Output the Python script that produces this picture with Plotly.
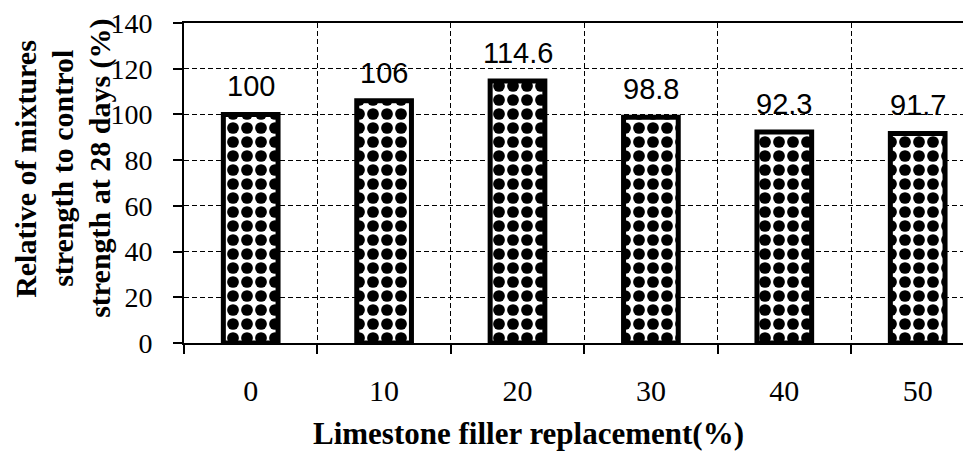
import plotly.graph_objects as go

categories = ["0", "10", "20", "30", "40", "50"]
values = [100, 106, 114.6, 98.8, 92.3, 91.7]
value_labels = ["100", "106", "114.6", "98.8", "92.3", "91.7"]
y_ticks = [0, 20, 40, 60, 80, 100, 120, 140]
y_title_lines = ["Relative of mixtures", "strength to control", "strength at 28 days (%)"]
x_title = "Limestone filler replacement(%)"

x_pos = list(range(len(categories)))

fig = go.Figure()
fig.add_trace(go.Bar(
    x=x_pos, y=values, width=0.41,
    marker=dict(
        color="white",
        line=dict(color="black", width=5),
        pattern=dict(shape=".", fgcolor="black", bgcolor="white", fgopacity=1,
                     size=14, solidity=0.55),
    ),
    showlegend=False,
))

serif = "Liberation Serif, Times New Roman, serif"
sans = "Liberation Sans, Arial, sans-serif"

# page body has an 8px margin: figure coordinates = reference coordinates - 8
W, H = 963, 446
ml, mr, mt, mb = 176, 0, 13, 110.5
pw, ph = W - ml - mr, H - mt - mb


def px_x(x):
    return (x - ml) / pw


def px_y(y):
    return 1 - (y - mt) / ph


annotations = []
for xi, v, lab in zip(x_pos, values, value_labels):
    annotations.append(dict(x=xi, y=v, text=lab, showarrow=False, yanchor="bottom",
                            yshift=10, font=dict(family=sans, size=29, color="black")))

for line, cx in zip(y_title_lines, [18, 55, 92]):
    annotations.append(dict(
        xref="paper", yref="paper", x=px_x(cx), y=px_y(160),
        text="<b>" + line + "</b>", textangle=-90, showarrow=False,
        xanchor="center", yanchor="middle",
        font=dict(family=serif, size=30, color="black")))

annotations.append(dict(
    xref="paper", yref="paper", x=px_x(520), y=px_y(427),
    text="<b>" + x_title + "</b>", showarrow=False, xanchor="center", yanchor="middle",
    font=dict(family=serif, size=31, color="black")))

fig.update_layout(
    width=W, height=H,
    margin=dict(l=ml, r=mr, t=mt, b=mb, pad=0),
    plot_bgcolor="white", paper_bgcolor="white",
    annotations=annotations,
    xaxis=dict(
        range=[-0.5, -0.5 + pw / 133.4],
        tickmode="array", tickvals=x_pos, ticktext=categories,
        ticks="", showgrid=False, zeroline=False,
        showline=True, linecolor="black", linewidth=2, mirror=True,
        ticklabelstandoff=20,
        tickfont=dict(family=serif, size=30, color="black"),
        minor=dict(tick0=0.5, dtick=1, ticks="outside", ticklen=9, tickwidth=1.5,
                   tickcolor="black", showgrid=True, gridcolor="black",
                   griddash="5px,3px", gridwidth=1.2),
    ),
    yaxis=dict(
        range=[0, 140], tickmode="array", tickvals=y_ticks,
        ticks="outside", ticklen=9, tickwidth=1.5, tickcolor="black",
        showgrid=True, gridcolor="black", griddash="5px,3px", gridwidth=1.2,
        zeroline=False, showline=True, linecolor="black", linewidth=2,
        ticklabelstandoff=15, ticklabeloverflow="allow",
        tickfont=dict(family=serif, size=28, color="black"),
    ),
)

fig.write_html("out.html")
